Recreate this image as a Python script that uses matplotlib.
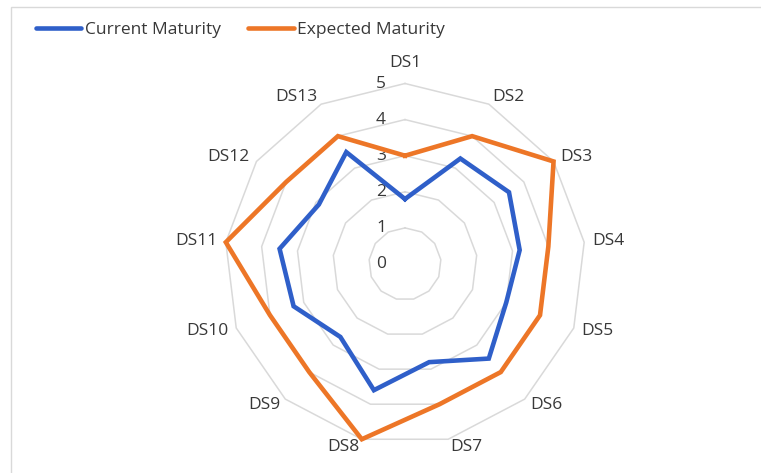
"""Radar chart: current vs expected maturity per dimension."""

import matplotlib
matplotlib.use("Agg")
import matplotlib.pyplot as plt
from matplotlib.lines import Line2D
from matplotlib.patches import Rectangle
import numpy as np

categories = ["DS1", "DS2", "DS3", "DS4", "DS5", "DS6", "DS7",
              "DS8", "DS9", "DS10", "DS11", "DS12", "DS13"]
current = [1.8, 3.3, 3.5, 3.2, 3.0, 3.5, 2.8, 3.6, 2.7, 3.3, 3.5, 2.9, 3.5]
expected = [3, 4, 5, 4, 4, 4, 4, 5, 4, 4, 5, 4, 4]
ring_values = [0, 1, 2, 3, 4, 5]

BLUE = "#2F5FC9"
ORANGE = "#ED7627"
GRID = "#D9D9D9"
TEXT = "#383838"
FONT = "Open Sans"
FS = 12.5

W, H = 761, 473
fig = plt.figure(figsize=(W / 100, H / 100), dpi=100)
plt.rcParams["font.family"] = [FONT, "DejaVu Sans"]

# chart border (runs off the right and bottom edges)
fig.patches.append(Rectangle((10.5 / W, -0.1), 1.2, 1.1 - 7.5 / H,
                             transform=fig.transFigure, fill=False,
                             edgecolor=GRID, linewidth=1.0))

# polar axes: centre at (405, 264) px, radius 5 -> 180.5 px
cx, cy, R = 405, 264, 180.5
ax = fig.add_axes([(cx - R) / W, (H - cy - R) / H, 2 * R / W, 2 * R / H],
                  projection="polar")
ax.set_theta_offset(np.pi / 2)
ax.set_theta_direction(-1)
ax.set_ylim(0, 5)
ax.set_xticks([])
ax.set_yticks([])
ax.grid(False)
ax.spines["polar"].set_visible(False)
ax.patch.set_visible(False)

n = len(categories)
theta = np.linspace(0, 2 * np.pi, n, endpoint=False)
theta_c = np.append(theta, theta[0])

# polygon gridlines
for k in ring_values[1:]:
    ax.plot(theta_c, [k] * (n + 1), color=GRID, linewidth=1.1, clip_on=False, zorder=1)

# radial value labels
for k in ring_values:
    ax.annotate(str(k), xy=(0, k), xytext=(-19, 0), textcoords="offset pixels",
                ha="right", va="center", fontsize=FS, color=TEXT)

# series
ax.plot(theta_c, current + current[:1], color=BLUE, linewidth=3.3,
        solid_joinstyle="miter", clip_on=False, zorder=3)
ax.plot(theta_c, expected + expected[:1], color=ORANGE, linewidth=3.3,
        solid_joinstyle="miter", clip_on=False, zorder=4)

# category labels outside the outer ring
for t, name in zip(theta, categories):
    s, c = np.sin(t), np.cos(t)
    if abs(s) < 0.1:
        ha, va, g = "center", "bottom", 13
    else:
        ha, va, g = ("left" if s > 0 else "right"), "center", 8
    ax.annotate(name, xy=(t, 5), xytext=(g * s, g * c), textcoords="offset pixels",
                ha=ha, va=va, fontsize=FS, color=TEXT, annotation_clip=False)

# legend
handles = [Line2D([], [], color=BLUE, linewidth=3.3, solid_capstyle="round"),
           Line2D([], [], color=ORANGE, linewidth=3.3, solid_capstyle="round")]
fig.legend(handles, ["Current Maturity", "Expected Maturity"],
           loc="center left", bbox_to_anchor=(36 / W, 1 - 30 / H), ncol=2,
           frameon=False, borderpad=0, borderaxespad=0, fontsize=FS,
           handlelength=2.6, handletextpad=0.2, columnspacing=1.6,
           labelcolor=TEXT)

fig.savefig("out.png", dpi=100)
plt.close(fig)
